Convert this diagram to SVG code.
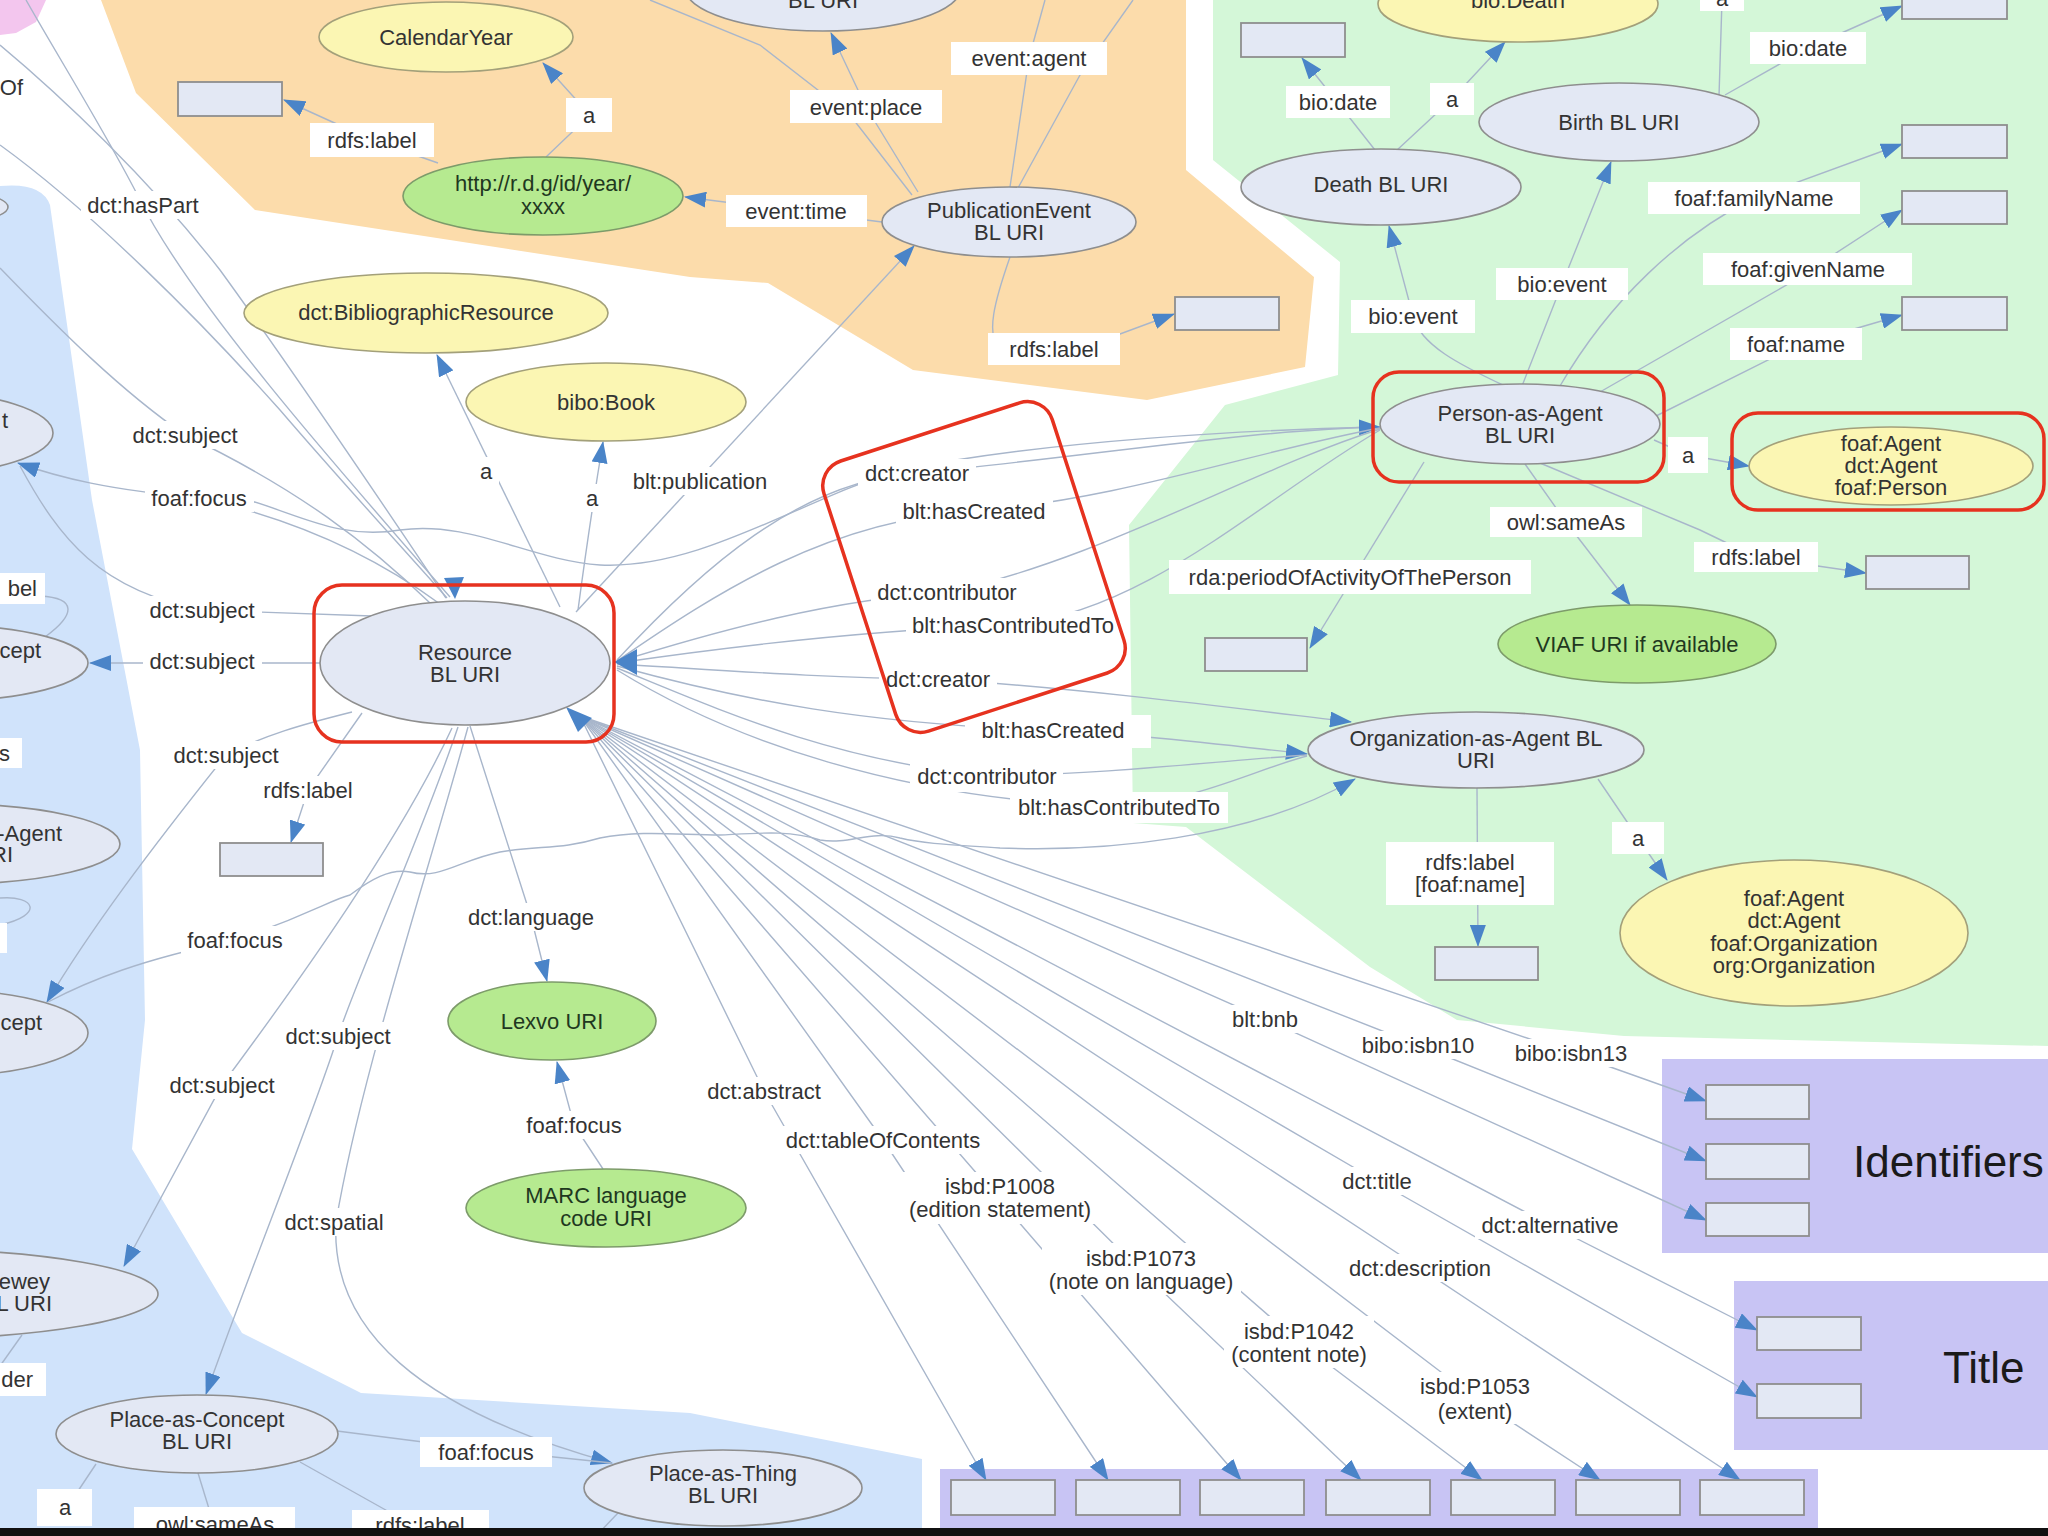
<svg xmlns="http://www.w3.org/2000/svg" width="2048" height="1536" viewBox="0 0 2048 1536">
<defs>
<style>
.t{font-family:"Liberation Sans",Arial,Helvetica,sans-serif;font-size:22px;fill:#333;text-anchor:middle}
.te{font-family:"Liberation Sans",Arial,Helvetica,sans-serif;font-size:22px;fill:#333;text-anchor:end}
.tg{fill:#1f381f}
.big{font-family:"Liberation Sans",Arial,Helvetica,sans-serif;font-size:44px;fill:#1a1a1a}
.n{fill:#e3e8f4;stroke:#8e8e8e;stroke-width:1.6}
.y{fill:#fbf6b3;stroke:#a3a07a;stroke-width:1.6}
.g{fill:#b6ea90;stroke:#7d9b6a;stroke-width:1.6}
.bx{fill:#e3e8f4;stroke:#8e8e8e;stroke-width:1.8}
.lb{fill:#fff}
.e{fill:none;stroke:#a8b6cb;stroke-width:1.4}
.ea{fill:none;stroke:#a8b6cb;stroke-width:1.4;marker-end:url(#arr)}
.red{fill:none;stroke:#e6321f;stroke-width:3.5}
.ah{fill:#4a84c8}
</style>
<marker id="arr" viewBox="0 0 22 16" refX="21" refY="8" markerWidth="22" markerHeight="16" markerUnits="userSpaceOnUse" orient="auto"><path d="M0,0 L22,8 L0,16 Z" fill="#4a84c8"/></marker>
</defs>
<rect width="2048" height="1536" fill="#fff"/>
<g id="regions">
<path fill="#f3c6ee" d="M0,0 L46,0 L36,22 L16,33 L0,35 Z"/>
<polygon fill="#fcdcab" points="101,0 136,93 255,210 690,277 768,283 913,370 1147,400 1305,367 1314,277 1186,170 1186,0"/>
<polygon fill="#d4f7d8" points="1213,0 2048,0 2048,1046 1624,1036 1457,1020 1370,967 1186,827 1133,823 1129,525 1225,405 1338,375 1340,262 1213,160"/>
<path fill="#d0e3fb" d="M0,186 Q42,182 50,205 L92,500 L140,750 L145,1020 L132,1149 L242,1333 L361,1393 L690,1413 L922,1459 L922,1536 L0,1536 Z"/>
<rect fill="#c8c4f4" x="1662" y="1059" width="386" height="194"/>
<rect fill="#c8c4f4" x="1734" y="1281" width="314" height="169"/>
<rect fill="#c8c4f4" x="940" y="1469" width="878" height="67"/>
</g>
<g id="connectors">
<path class="ea" d="M546,157 L590,115 L543,63"/>
<path class="ea" d="M438,163 L372,140 L284,100"/>
<path class="ea" d="M882,222 L796,211 L685,197"/>
<path class="ea" d="M918,192 L866,107 L831,33"/>
<path class="e" d="M912,195 L850,115 L760,45 L650,0"/>
<path class="e" d="M1010,187 L1029,58 L1045,0"/>
<path class="e" d="M1018,188 L1080,75 L1133,0"/>
<path class="ea" d="M1010,257 C995,300 985,335 1000,350 L1120,334 L1174,314"/>
<path class="ea" d="M576,612 L914,246"/>
<path class="ea" d="M560,607 L437,355"/>
<path class="ea" d="M578,610 Q590,520 603,442"/>
<path class="e" d="M26,0 C60,60 110,140 140,200 C190,300 330,460 450,597"/>
<path class="e" d="M0,45 C60,95 150,180 220,270 C300,380 380,500 446,598"/>
<path class="e" d="M0,145 C90,210 200,320 280,410 C340,480 400,545 447,598"/>
<path class="e" d="M0,268 C60,330 120,390 185,435 C300,490 370,545 430,603"/>
<path class="e" d="M248,500 C300,515 340,540 400,530 C470,520 530,560 600,565 C700,570 800,500 900,470 C1050,440 1250,430 1378,427"/>
<path class="ea" d="M440,604 C380,560 300,520 199,498 C110,490 60,478 18,463"/>
<path class="e" d="M372,616 L202,610 C100,590 60,540 20,466"/>
<path class="ea" d="M320,663 L90,663"/>
<path class="ea" d="M352,712 C300,725 265,735 226,755 C150,850 90,930 47,1002"/>
<path class="e" d="M235,940 C140,960 90,980 48,1002"/>
<path class="ea" d="M235,940 C310,915 330,900 350,895 C370,880 390,868 410,872 C440,880 460,860 500,852 C540,845 560,850 600,838 C640,830 680,835 720,835 C760,833 790,830 820,840 C850,845 870,830 900,838 C930,845 960,845 1000,848 C1100,852 1250,840 1355,779"/>
<path class="ea" d="M362,713 L308,790 L291,842"/>
<path class="ea" d="M470,726 L531,917 L547,981"/>
<path class="ea" d="M458,727 C420,840 360,970 338,1036 C315,1110 250,1270 206,1394"/>
<path class="ea" d="M468,727 C420,900 360,1080 336,1222 C330,1330 420,1410 612,1463"/>
<path class="ea" d="M452,728 C400,840 300,980 222,1085 L124,1266"/>
<path class="ea" d="M603,1169 L574,1125 L557,1062"/>
<path class="e" d="M337,1431 L486,1450 L612,1463"/>
<path class="e" d="M96,1464 L68,1506"/>
<path class="e" d="M198,1473 L210,1512"/>
<path class="e" d="M300,1462 L400,1518"/>
<path class="e" d="M618,1513 L596,1536"/>
<path class="e" d="M45,637 C75,615 78,598 40,596"/>
<path class="e" d="M22,1335 L0,1366"/>
<path class="e" d="M0,898 C35,895 45,915 0,925"/>
<path class="ea" d="M1522,386 L1562,284 L1611,162"/>
<path class="ea" d="M1505,386 C1460,365 1420,345 1413,316 L1389,226"/>
<path class="ea" d="M1560,386 C1610,300 1680,235 1754,198 L1902,144"/>
<path class="ea" d="M1600,392 L1790,283 L1902,210"/>
<path class="ea" d="M1652,418 L1796,346 L1902,315"/>
<path class="ea" d="M1725,95 L1808,48 L1902,6"/>
<path class="e" d="M1719,96 L1722,0"/>
<path class="ea" d="M1396,151 L1452,99 L1505,42"/>
<path class="ea" d="M1375,150 L1338,103 L1302,58"/>
<path class="ea" d="M1654,440 L1688,455 L1749,466"/>
<path class="ea" d="M1525,464 L1566,522 L1630,605"/>
<path class="ea" d="M1540,463 L1700,530 L1756,557 L1866,573"/>
<path class="ea" d="M1424,462 L1310,648"/>
<path class="ea" d="M1477,788 L1478,946"/>
<path class="ea" d="M1598,779 L1638,838 L1667,880"/>
<path class="ea" d="M617,660 C700,570 800,480 917,473 C1100,455 1250,430 1380,427"/>
<path class="e" d="M617,661 C720,590 830,520 974,511 C1120,500 1260,450 1380,428"/>
<path class="e" d="M617,662 C720,630 830,600 947,592 C1100,560 1250,470 1380,429"/>
<path class="e" d="M617,663 C740,645 870,630 1013,625 C1150,610 1260,500 1380,430"/>
<path class="ea" d="M617,664 C720,670 820,678 938,679 C1100,690 1250,710 1351,722"/>
<path class="ea" d="M617,666 C740,700 870,725 1053,730 C1150,735 1250,748 1307,754"/>
<path class="e" d="M617,668 C720,710 830,760 987,776 C1100,775 1230,760 1307,755"/>
<path class="e" d="M617,670 C730,740 900,800 1119,807 C1200,800 1260,768 1307,756"/>
<path class="ea" d="M580,716 L1571,1053 L1706,1101"/>
<path class="ea" d="M580,716 L1418,1045 L1706,1161"/>
<path class="ea" d="M580,716 L1265,1019 L1706,1220"/>
<path class="ea" d="M580,716 L1550,1225 L1757,1330"/>
<path class="ea" d="M580,716 L1377,1181 L1757,1397"/>
<path class="ea" d="M580,716 L1420,1268 L1740,1480"/>
<path class="ea" d="M580,716 L1475,1398 L1600,1480"/>
<path class="ea" d="M580,716 L1299,1342 L1482,1480"/>
<path class="ea" d="M580,716 L1138,1268 L1361,1480"/>
<path class="ea" d="M580,716 L998,1198 L1241,1480"/>
<path class="ea" d="M580,716 L883,1140 L1108,1480"/>
<path class="ea" d="M580,716 L764,1091 L986,1480"/>
<polygon class="ah" points="614,662 637,649 637,675"/>
<polygon class="ah" points="566,707 592,718 578,732"/>
<polygon class="ah" points="455,599 444,578 464,577"/>
</g>
<g id="labels">
<rect class="lb" x="310" y="123" width="124" height="34"/><text class="t" x="372" y="148">rdfs:label</text>
<rect class="lb" x="566" y="98" width="46" height="34"/><text class="t" x="589" y="123">a</text>
<rect class="lb" x="726" y="195" width="141" height="32"/><text class="t" x="796" y="219">event:time</text>
<rect class="lb" x="790" y="90" width="152" height="33"/><text class="t" x="866" y="115">event:place</text>
<rect class="lb" x="951" y="42" width="156" height="33"/><text class="t" x="1029" y="66">event:agent</text>
<rect class="lb" x="988" y="333" width="132" height="32"/><text class="t" x="1054" y="357">rdfs:label</text>
<rect class="lb" x="1286" y="86" width="104" height="32"/><text class="t" x="1338" y="110">bio:date</text>
<rect class="lb" x="1430" y="83" width="44" height="32"/><text class="t" x="1452" y="107">a</text>
<rect class="lb" x="1700" y="-21" width="44" height="32"/><text class="t" x="1722" y="6">a</text>
<rect class="lb" x="1750" y="32" width="116" height="32"/><text class="t" x="1808" y="56">bio:date</text>
<rect class="lb" x="1648" y="182" width="212" height="32"/><text class="t" x="1754" y="206">foaf:familyName</text>
<rect class="lb" x="1703" y="253" width="209" height="32"/><text class="t" x="1808" y="277">foaf:givenName</text>
<rect class="lb" x="1730" y="328" width="132" height="32"/><text class="t" x="1796" y="352">foaf:name</text>
<rect class="lb" x="1496" y="268" width="132" height="32"/><text class="t" x="1562" y="292">bio:event</text>
<rect class="lb" x="1351" y="300" width="124" height="33"/><text class="t" x="1413" y="324">bio:event</text>
<rect class="lb" x="1668" y="437" width="40" height="36"/><text class="t" x="1688" y="463">a</text>
<rect class="lb" x="1490" y="507" width="152" height="30"/><text class="t" x="1566" y="530">owl:sameAs</text>
<rect class="lb" x="1694" y="542" width="124" height="30"/><text class="t" x="1756" y="565">rdfs:label</text>
<rect class="lb" x="1169" y="560" width="362" height="34"/><text class="t" x="1350" y="585">rda:periodOfActivityOfThePerson</text>
<rect class="lb" x="1612" y="822" width="52" height="32"/><text class="t" x="1638" y="846">a</text>
<rect class="lb" x="1386" y="842" width="168" height="63"/><text class="t" x="1470" y="870">rdfs:label</text><text class="t" x="1470" y="892">[foaf:name]</text>
<rect class="lb" x="965" y="715" width="186" height="33"/><text class="t" x="1053" y="738">blt:hasCreated</text>
<rect class="lb" x="910" y="762" width="153" height="30"/><text class="t" x="987" y="784">dct:contributor</text>
<rect class="lb" x="1010" y="792" width="218" height="31"/><text class="t" x="1119" y="815">blt:hasContributedTo</text>
<rect class="lb" x="858" y="459" width="118" height="28"/><text class="t" x="917" y="481">dct:creator</text>
<rect class="lb" x="896" y="497" width="157" height="28"/><text class="t" x="974" y="519">blt:hasCreated</text>
<rect class="lb" x="871" y="578" width="153" height="28"/><text class="t" x="947" y="600">dct:contributor</text>
<rect class="lb" x="906" y="611" width="214" height="28"/><text class="t" x="1013" y="633">blt:hasContributedTo</text>
<rect class="lb" x="879" y="665" width="118" height="28"/><text class="t" x="938" y="687">dct:creator</text>
<rect class="lb" x="81" y="191" width="125" height="28"/><text class="t" x="143" y="213">dct:hasPart</text>
<rect class="lb" x="126" y="421" width="119" height="28"/><text class="t" x="185" y="443">dct:subject</text>
<rect class="lb" x="145" y="484" width="109" height="28"/><text class="t" x="199" y="506">foaf:focus</text>
<rect class="lb" x="143" y="596" width="119" height="28"/><text class="t" x="202" y="618">dct:subject</text>
<rect class="lb" x="143" y="647" width="119" height="28"/><text class="t" x="202" y="669">dct:subject</text>
<rect class="lb" x="167" y="741" width="119" height="28"/><text class="t" x="226" y="763">dct:subject</text>
<rect class="lb" x="257" y="776" width="103" height="28"/><text class="t" x="308" y="798">rdfs:label</text>
<rect class="lb" x="181" y="926" width="109" height="28"/><text class="t" x="235" y="948">foaf:focus</text>
<rect class="lb" x="461" y="903" width="140" height="28"/><text class="t" x="531" y="925">dct:language</text>
<rect class="lb" x="279" y="1022" width="119" height="28"/><text class="t" x="338" y="1044">dct:subject</text>
<rect class="lb" x="163" y="1071" width="119" height="28"/><text class="t" x="222" y="1093">dct:subject</text>
<rect class="lb" x="520" y="1111" width="109" height="28"/><text class="t" x="574" y="1133">foaf:focus</text>
<rect class="lb" x="278" y="1208" width="113" height="28"/><text class="t" x="334" y="1230">dct:spatial</text>
<rect class="lb" x="420" y="1437" width="132" height="30"/><text class="t" x="486" y="1460">foaf:focus</text>
<rect class="lb" x="473" y="457" width="26" height="28"/><text class="t" x="486" y="479">a</text>
<rect class="lb" x="579" y="484" width="26" height="28"/><text class="t" x="592" y="506">a</text>
<rect class="lb" x="626" y="467" width="149" height="28"/><text class="t" x="700" y="489">blt:publication</text>
<rect class="lb" x="700" y="1077" width="128" height="28"/><text class="t" x="764" y="1099">dct:abstract</text>
<rect class="lb" x="779" y="1126" width="208" height="28"/><text class="t" x="883" y="1148">dct:tableOfContents</text>
<rect class="lb" x="902" y="1172" width="196" height="52"/><text class="t" x="1000" y="1194">isbd:P1008</text><text class="t" x="1000" y="1217">(edition statement)</text>
<rect class="lb" x="1042" y="1243" width="199" height="52"/><text class="t" x="1141" y="1266">isbd:P1073</text><text class="t" x="1141" y="1289">(note on language)</text>
<rect class="lb" x="1224" y="1316" width="150" height="52"/><text class="t" x="1299" y="1339">isbd:P1042</text><text class="t" x="1299" y="1362">(content note)</text>
<rect class="lb" x="1413" y="1372" width="124" height="52"/><text class="t" x="1475" y="1394">isbd:P1053</text><text class="t" x="1475" y="1419">(extent)</text>
<rect class="lb" x="1225" y="1005" width="80" height="28"/><text class="t" x="1265" y="1027">blt:bnb</text>
<rect class="lb" x="1355" y="1031" width="127" height="28"/><text class="t" x="1418" y="1053">bibo:isbn10</text>
<rect class="lb" x="1508" y="1039" width="127" height="28"/><text class="t" x="1571" y="1061">bibo:isbn13</text>
<rect class="lb" x="1335" y="1167" width="84" height="28"/><text class="t" x="1377" y="1189">dct:title</text>
<rect class="lb" x="1475" y="1211" width="151" height="28"/><text class="t" x="1550" y="1233">dct:alternative</text>
<rect class="lb" x="1342" y="1254" width="156" height="28"/><text class="t" x="1420" y="1276">dct:description</text>
<rect class="lb" x="37" y="1489" width="55" height="37"/><text class="t" x="65" y="1515">a</text>
<rect class="lb" x="134" y="1507" width="161" height="30"/><text class="t" x="215" y="1532">owl:sameAs</text>
<rect class="lb" x="352" y="1510" width="137" height="27"/><text class="t" x="420" y="1533">rdfs:label</text>
<text class="te" x="23" y="95">Of</text>
<rect class="lb" x="0" y="573" width="45" height="31"/><text class="te" x="37" y="596">bel</text>
<rect class="lb" x="0" y="738" width="22" height="30"/><text class="te" x="10" y="761">s</text>
<rect class="lb" x="0" y="1363" width="46" height="33"/><text class="te" x="33" y="1387">der</text>
<rect class="lb" x="0" y="923" width="7" height="30"/>
<text class="big" x="1853" y="1177">Identifiers</text>
<text class="big" x="1943" y="1383">Title</text>
</g>
<g id="n-top-bluri"><ellipse class="n" cx="823" cy="-12" rx="138" ry="43"/><text class="t" x="823" y="8">BL URI</text></g>
<g id="n-calendaryear"><ellipse class="y" cx="446" cy="37" rx="127" ry="35"/><text class="t" x="446" y="45">CalendarYear</text></g>
<g id="n-year"><ellipse class="g" cx="543" cy="196" rx="140" ry="39"/><text class="t tg" x="543" y="191">http://r.d.g/id/year/</text><text class="t tg" x="543" y="214">xxxx</text></g>
<g id="n-box-year"><rect class="bx" x="178" y="82" width="104" height="34"/></g>
<g id="n-pubevent"><ellipse class="n" cx="1009" cy="222" rx="127" ry="35"/><text class="t" x="1009" y="218">PublicationEvent</text><text class="t" x="1009" y="240">BL URI</text></g>
<g id="n-box-pub"><rect class="bx" x="1175" y="297" width="104" height="33"/></g>
<g id="n-bibres"><ellipse class="y" cx="426" cy="313" rx="182" ry="40"/><text class="t" x="426" y="320">dct:BibliographicResource</text></g>
<g id="n-book"><ellipse class="y" cx="606" cy="402" rx="140" ry="39"/><text class="t" x="606" y="410">bibo:Book</text></g>
<g id="n-resource"><ellipse class="n" cx="465" cy="663" rx="145" ry="62"/><text class="t" x="465" y="660">Resource</text><text class="t" x="465" y="682">BL URI</text></g>
<g id="n-person"><ellipse class="n" cx="1520" cy="424" rx="140" ry="40"/><text class="t" x="1520" y="421">Person-as-Agent</text><text class="t" x="1520" y="443">BL URI</text></g>
<g id="n-person-class"><ellipse class="y" cx="1891" cy="466" rx="142" ry="39"/><text class="t" x="1891" y="451">foaf:Agent</text><text class="t" x="1891" y="473">dct:Agent</text><text class="t" x="1891" y="495">foaf:Person</text></g>
<g id="n-birth"><ellipse class="n" cx="1619" cy="122" rx="140" ry="39"/><text class="t" x="1619" y="130">Birth BL URI</text></g>
<g id="n-death"><ellipse class="n" cx="1381" cy="187" rx="140" ry="38"/><text class="t" x="1381" y="192">Death BL URI</text></g>
<g id="n-biodeath"><ellipse class="y" cx="1518" cy="4" rx="140" ry="38"/><text class="t" x="1518" y="8">bio:Death</text></g>
<g id="n-boxes-green">
<rect class="bx" x="1241" y="23" width="104" height="34"/>
<rect class="bx" x="1902" y="-16" width="105" height="35"/>
<rect class="bx" x="1902" y="125" width="105" height="33"/>
<rect class="bx" x="1902" y="191" width="105" height="33"/>
<rect class="bx" x="1902" y="297" width="105" height="33"/>
<rect class="bx" x="1866" y="556" width="103" height="33"/>
<rect class="bx" x="1205" y="638" width="102" height="33"/>
<rect class="bx" x="1435" y="947" width="103" height="33"/>
</g>
<g id="n-viaf"><ellipse class="g" cx="1637" cy="644" rx="139" ry="39"/><text class="t tg" x="1637" y="652">VIAF URI if available</text></g>
<g id="n-org"><ellipse class="n" cx="1476" cy="750" rx="168" ry="38"/><text class="t" x="1476" y="746">Organization-as-Agent BL</text><text class="t" x="1476" y="768">URI</text></g>
<g id="n-org-class"><ellipse class="y" cx="1794" cy="933" rx="174" ry="73"/><text class="t" x="1794" y="906">foaf:Agent</text><text class="t" x="1794" y="928">dct:Agent</text><text class="t" x="1794" y="951">foaf:Organization</text><text class="t" x="1794" y="973">org:Organization</text></g>
<g id="n-lexvo"><ellipse class="g" cx="552" cy="1021" rx="104" ry="39"/><text class="t tg" x="552" y="1029">Lexvo URI</text></g>
<g id="n-marc"><ellipse class="g" cx="606" cy="1208" rx="140" ry="39"/><text class="t tg" x="606" y="1203">MARC language</text><text class="t tg" x="606" y="1226">code URI</text></g>
<g id="n-box-res"><rect class="bx" x="220" y="843" width="103" height="33"/></g>
<g id="n-placeconcept"><ellipse class="n" cx="197" cy="1434" rx="141" ry="39"/><text class="t" x="197" y="1427">Place-as-Concept</text><text class="t" x="197" y="1449">BL URI</text></g>
<g id="n-placething"><ellipse class="n" cx="723" cy="1488" rx="139" ry="38"/><text class="t" x="723" y="1481">Place-as-Thing</text><text class="t" x="723" y="1503">BL URI</text></g>
<g id="n-left-1"><ellipse class="n" cx="-92" cy="207" rx="100" ry="20"/></g>
<g id="n-left-2"><ellipse class="n" cx="-80" cy="433" rx="133" ry="41"/><text class="te" x="8" y="428">t</text></g>
<g id="n-left-3"><ellipse class="n" cx="-60" cy="663" rx="148" ry="38"/><text class="te" x="41" y="658">cept</text></g>
<g id="n-left-4"><ellipse class="n" cx="-50" cy="844" rx="170" ry="40"/><text class="te" x="62" y="841">-Agent</text><text class="te" x="13" y="862">RI</text></g>
<g id="n-left-5"><ellipse class="n" cx="-60" cy="1033" rx="148" ry="43"/><text class="te" x="42" y="1030">cept</text></g>
<g id="n-left-6"><ellipse class="n" cx="-100" cy="1294" rx="258" ry="45"/><text class="te" x="50" y="1289">ewey</text><text class="te" x="52" y="1311">L URI</text></g>
<g id="n-boxes-bottom">
<rect class="bx" x="1706" y="1085" width="103" height="34"/>
<rect class="bx" x="1706" y="1144" width="103" height="35"/>
<rect class="bx" x="1706" y="1203" width="103" height="33"/>
<rect class="bx" x="1757" y="1317" width="104" height="33"/>
<rect class="bx" x="1757" y="1384" width="104" height="34"/>
<rect class="bx" x="951" y="1480" width="104" height="35"/>
<rect class="bx" x="1076" y="1480" width="104" height="35"/>
<rect class="bx" x="1200" y="1480" width="104" height="35"/>
<rect class="bx" x="1326" y="1480" width="104" height="35"/>
<rect class="bx" x="1451" y="1480" width="104" height="35"/>
<rect class="bx" x="1576" y="1480" width="104" height="35"/>
<rect class="bx" x="1700" y="1480" width="104" height="35"/>
</g>
<g id="highlights">
<rect class="red" x="314" y="585" width="300" height="157" rx="28"/>
<rect class="red" x="1373" y="372" width="291" height="110" rx="26"/>
<rect class="red" x="1732" y="413" width="312" height="97" rx="26"/>
<rect class="red" x="-120" y="-142" width="240" height="284" rx="26" transform="translate(974,567) rotate(-18)"/>
</g>
<rect x="0" y="1528" width="2048" height="8" fill="#111"/>
</svg>
